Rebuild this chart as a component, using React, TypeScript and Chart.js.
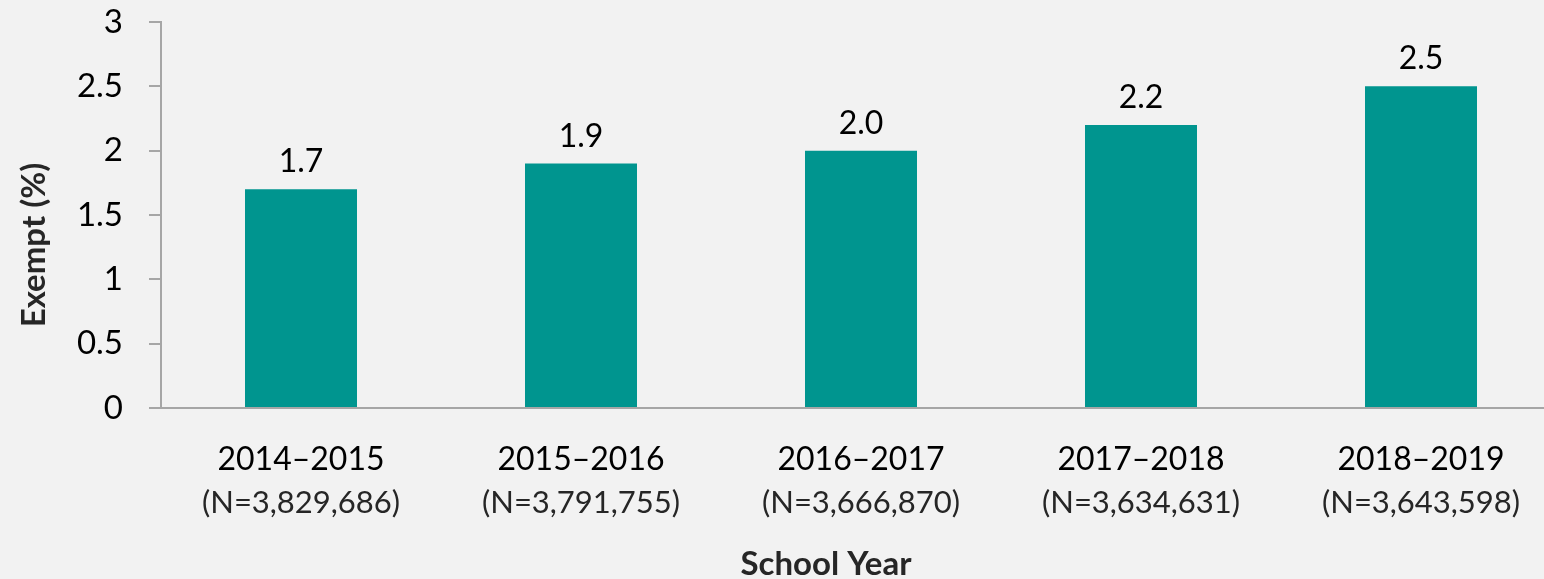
import React, { useEffect, useRef } from "react";
import { Chart, registerables } from "chart.js";

Chart.register(...registerables);

const years = ["2014–2015", "2015–2016", "2016–2017", "2017–2018", "2018–2019"];
const counts = ["(N=3,829,686)", "(N=3,791,755)", "(N=3,666,870)", "(N=3,634,631)", "(N=3,643,598)"];
const exempt = [1.7, 1.9, 2.0, 2.2, 2.5];
const valueLabels = ["1.7", "1.9", "2.0", "2.2", "2.5"];
const yTickLabels = ["0", "0.5", "1", "1.5", "2", "2.5", "3"];

const FONT = "Lato, 'Open Sans', sans-serif";
const BG = "#f2f2f2";
const BAR = "#00958f";
const AXIS = "#a6a6a6";

export default function App() {
  const ref = useRef<HTMLCanvasElement | null>(null);

  useEffect(() => {
    const canvas = ref.current;
    if (!canvas) return;

    const overlay = {
      id: "overlay",
      beforeDraw(chart: any) {
        const ctx = chart.ctx;
        ctx.save();
        ctx.fillStyle = BG;
        ctx.fillRect(0, 0, chart.width, chart.height);
        ctx.restore();
      },
      afterDraw(chart: any) {
        const ctx = chart.ctx;
        const x = chart.scales.x;
        const y = chart.scales.y;
        const area = chart.chartArea;
        ctx.save();
        ctx.strokeStyle = AXIS;
        ctx.lineWidth = 2;
        ctx.beginPath();
        ctx.moveTo(area.left - 12, y.getPixelForValue(0));
        ctx.lineTo(area.left, y.getPixelForValue(0));
        ctx.stroke();

        ctx.textAlign = "center";
        ctx.textBaseline = "middle";
        years.forEach((yr, i) => {
          const px = x.getPixelForValue(i);
          ctx.fillStyle = "#000000";
          ctx.font = `32px ${FONT}`;
          ctx.fillText(yr, px, 460);
          ctx.fillStyle = "#262626";
          ctx.font = `31px ${FONT}`;
          ctx.fillText(counts[i], px, 503);
        });

        const meta = chart.getDatasetMeta(0);
        ctx.fillStyle = "#000000";
        ctx.font = `32px ${FONT}`;
        ctx.textBaseline = "alphabetic";
        meta.data.forEach((bar: any, i: number) => {
          ctx.fillText(valueLabels[i], bar.x, bar.y - 17);
        });

        ctx.font = `bold 33px ${FONT}`;
        ctx.fillStyle = "#262626";
        ctx.textBaseline = "middle";
        ctx.fillText("School Year", 826, 564);
        ctx.translate(34, 245);
        ctx.rotate(-Math.PI / 2);
        ctx.fillText("Exempt (%)", 0, 0);
        ctx.restore();
      },
    };

    const chart = new Chart(canvas, {
      type: "bar",
      data: {
        labels: years,
        datasets: [
          {
            data: exempt,
            backgroundColor: BAR,
            borderWidth: 0,
            barPercentage: 0.4,
            categoryPercentage: 1,
          },
        ],
      },
      options: {
        animation: false,
        responsive: false,
        maintainAspectRatio: false,
        layout: { padding: { top: 22, right: 39, left: 0, bottom: 0 } },
        plugins: {
          legend: { display: false },
          tooltip: { enabled: false },
          title: { display: false },
        },
        scales: {
          x: {
            grid: { display: false, drawTicks: false },
            border: { display: true, color: AXIS, width: 2 },
            ticks: { display: false },
            afterFit(scale: any) {
              scale.height = 579 - 408;
              scale.paddingLeft = 0;
              scale.paddingRight = 0;
            },
          },
          y: {
            min: 0,
            max: 3,
            ticks: {
              stepSize: 0.5,
              color: "#000000",
              font: { family: FONT, size: 33 },
              padding: 26,
              callback: (_v: any, i: number) => yTickLabels[i],
            },
            grid: {
              drawOnChartArea: false,
              drawTicks: true,
              tickLength: 12,
              color: AXIS,
              lineWidth: 2,
            },
            border: { display: true, color: AXIS, width: 2 },
            afterFit(scale: any) {
              scale.width = 161;
              scale.paddingTop = 0;
              scale.paddingBottom = 0;
            },
          },
        },
      },
      plugins: [overlay],
    });

    return () => chart.destroy();
  }, []);

  return (
    <div
      style={{
        position: "fixed",
        left: 0,
        top: 0,
        width: 1544,
        height: 579,
        overflow: "hidden",
        background: BG,
      }}
    >
      <canvas ref={ref} width={1600} height={579} style={{ display: "block" }} />
    </div>
  );
}
